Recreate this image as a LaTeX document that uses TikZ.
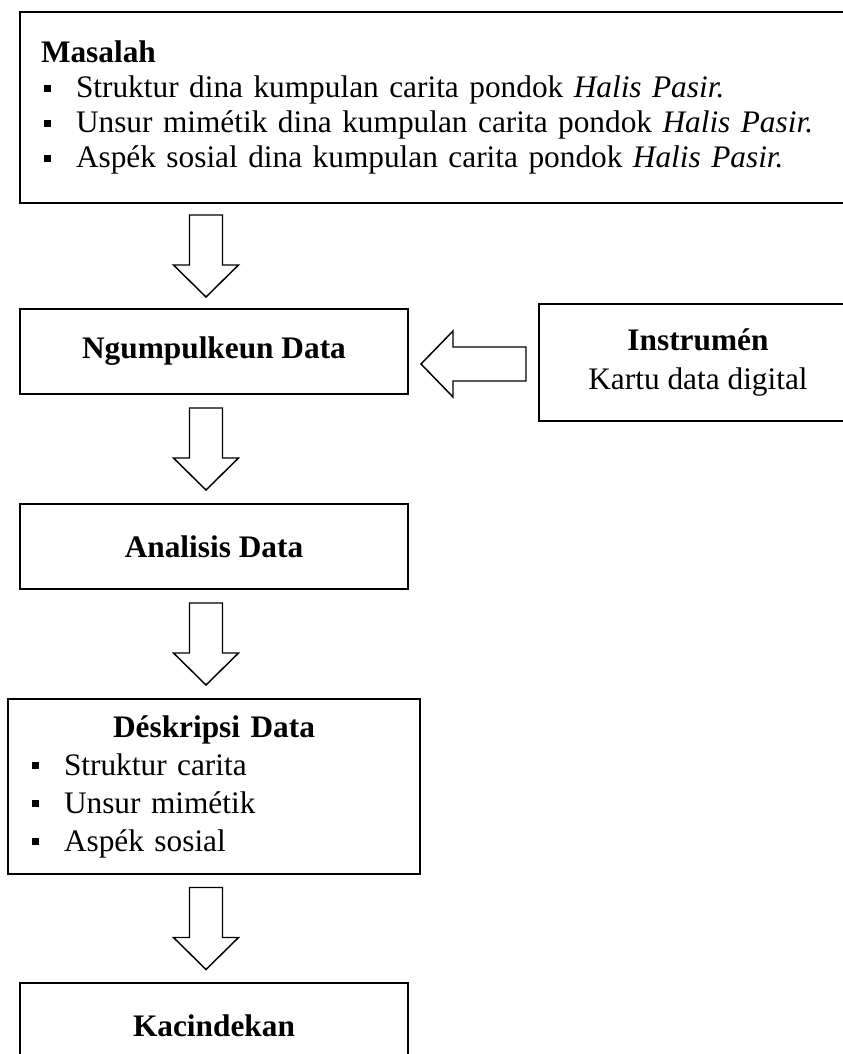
\documentclass[tikz,border=0pt]{standalone}
\usepackage{fontspec}
\setmainfont{Liberation Serif}
\usetikzlibrary{positioning,calc}

\newcommand{\blt}{\hspace*{2.25pt}\makebox[24pt][l]{\rule[4.5pt]{5.25pt}{5.25pt}}}

\tikzset{
  box/.style={draw, line width=1.5pt, rectangle, minimum width=291pt,
    minimum height=63.75pt, font=\fontsize{23.5pt}{28pt}\selectfont\bfseries, align=center},
  listbox/.style={draw, line width=1.5pt, rectangle, inner xsep=15.75pt, align=left},
  arrdown/.pic={
    \draw[line width=1.1pt, line join=miter]
      (-16.5,-41) -- (16.5,-41) -- (16.5,9) -- (32.5,9) -- (0,41)
      -- (-32.5,9) -- (-16.5,9) -- cycle;
  },
  arrleft/.pic={
    \draw[line width=1.1pt, line join=miter]
      (52.5,-17) -- (-20.5,-17) -- (-20.5,-33) -- (-52.5,0)
      -- (-20.5,33) -- (-20.5,17) -- (52.5,17) -- cycle;
  },
}

\begin{document}
\begin{tikzpicture}[x=0.75pt,y=-0.75pt,node distance=81pt]

  \useasboundingbox (0,0) rectangle (843,1054);

  \node[listbox, anchor=north west, minimum width=630.75pt, minimum height=143.25pt,
        text width=599.25pt, font=\fontsize{23.5pt}{26.25pt}\selectfont] (masalah) at (19,11)
    {\textbf{Masalah}\\
     \blt\makebox[529pt][s]{Struktur dina kumpulan carita pondok \textit{Halis Pasir.}}\\
     \blt Unsur mimétik dina kumpulan carita pondok \textit{Halis Pasir.}\\
     \blt\makebox[529pt][s]{Aspék sosial dina kumpulan carita pondok \textit{Halis Pasir.}}};

  \node[box, anchor=north west] (ngumpul) at (19,308) {Ngumpulkeun Data};
  \node[box] (analisis) [below=of ngumpul] {Analisis Data};
  \node[listbox, minimum width=309pt, minimum height=131.25pt, text width=277.5pt,
        font=\fontsize{23.5pt}{28.5pt}\selectfont] (deskripsi) [below=of analisis]
    {\makebox[\linewidth]{\textbf{Déskripsi Data}}\\
     \blt Struktur carita\\
     \blt Unsur mimétik\\
     \blt Aspék sosial};
  \node[box] (kacindekan) [below=80.25pt of deskripsi] {Kacindekan};

  \node[box, minimum width=238.5pt, minimum height=87.75pt,
        font=\fontsize{23.5pt}{29.25pt}\selectfont] (instrumen)
        [right=96.75pt of ngumpul, yshift=-8.25pt]
    {\textbf{Instrumén}\\ \mdseries Kartu data digital};

  % block arrows
  \coordinate (m1) at ($(ngumpul.north |- masalah.south)!0.5!(ngumpul.north)$);
  \coordinate (m2) at ($(ngumpul.south)!0.5!(analisis.north)$);
  \coordinate (m3) at ($(analisis.south)!0.5!(deskripsi.north)$);
  \coordinate (m4) at ($(deskripsi.south)!0.5!(kacindekan.north)$);
  \coordinate (m5) at ($(ngumpul.east)!0.5!(instrumen.west)$);

  \pic[xshift=-6pt] at (m1) {arrdown};
  \pic[xshift=-6pt] at (m2) {arrdown};
  \pic[xshift=-6pt] at (m3) {arrdown};
  \pic[xshift=-6pt] at (m4) {arrdown};
  \pic[yshift=-5.25pt] at (m5) {arrleft};

\end{tikzpicture}
\end{document}
